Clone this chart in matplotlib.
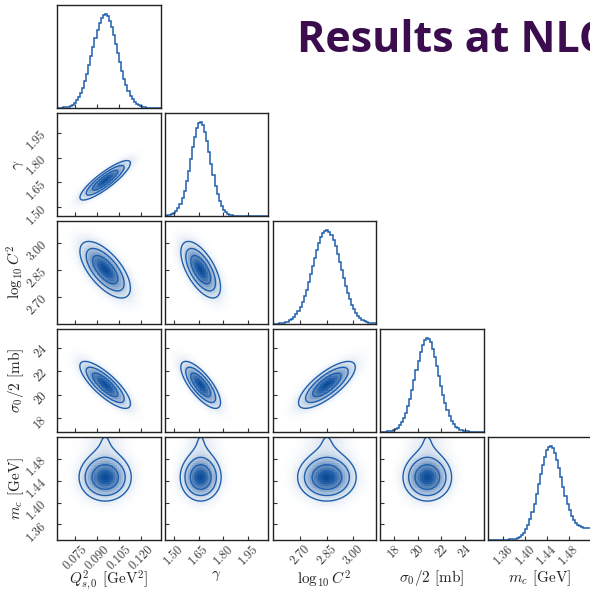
import numpy as np
import matplotlib
matplotlib.use("Agg")
import matplotlib.pyplot as plt
import matplotlib.transforms as mtransforms
from matplotlib.colors import LinearSegmentedColormap

plt.rcParams["font.family"] = "serif"
plt.rcParams["font.serif"] = ["cmr10"]
plt.rcParams["mathtext.fontset"] = "cm"
plt.rcParams["axes.formatter.use_mathtext"] = True

# parameters of the fit
labels = [r"$Q^2_{s,0}$ [GeV$^2$]", r"$\gamma$", r"$\log_{10}C^2$",
          r"$\sigma_0/2$ [mb]", r"$m_c$ [GeV]"]
ranges = [(0.0629, 0.1332), (1.446, 2.071), (2.55, 3.125), (16.83, 25.61), (1.332, 1.521)]
ticks = [[0.075, 0.090, 0.105, 0.120], [1.50, 1.65, 1.80, 1.95], [2.70, 2.85, 3.00],
         [18, 20, 22, 24], [1.36, 1.40, 1.44, 1.48]]
tick_labels = [["0.075", "0.090", "0.105", "0.120"], ["1.50", "1.65", "1.80", "1.95"],
               ["2.70", "2.85", "3.00"], ["18", "20", "22", "24"],
               ["1.36", "1.40", "1.44", "1.48"]]
means = [0.0955, 1.662, 2.852, 20.82, 1.446]
sigmas = [0.0086, 0.060, 0.079, 1.0, 0.021]
corr = np.array([
    [1.00, 0.87, -0.65, -0.80, 0.0],
    [0.87, 1.00, -0.62, -0.75, 0.0],
    [-0.65, -0.62, 1.00, 0.76, 0.0],
    [-0.80, -0.75, 0.76, 1.00, 0.0],
    [0.0, 0.0, 0.0, 0.0, 1.00],
])
# upper tail of the m_c posterior
mc_tail_mean = 1.515
mc_tail_sigma = 0.035
mc_tail_weight = 0.12

n_bins = 50
levels = 1.0 - np.exp(-0.5 * np.arange(0.5, 2.1, 0.5) ** 2)

line_color = "#1f5fad"
cmap = LinearSegmentedColormap.from_list("dens", ["#ffffff", "#0b4c98"])


def marginal(i, x):
    z = (x - means[i]) / sigmas[i]
    p = np.exp(-0.5 * z ** 2)
    if i == 4:
        p = p + mc_tail_weight * np.exp(-0.5 * ((x - mc_tail_mean) / mc_tail_sigma) ** 2)
    return p


def joint(i, j, X, Y):
    if i == 4 or j == 4:
        return marginal(i, X) * marginal(j, Y)
    r = corr[i, j]
    zx = (X - means[i]) / sigmas[i]
    zy = (Y - means[j]) / sigmas[j]
    return np.exp(-0.5 / (1 - r ** 2) * (zx ** 2 - 2 * r * zx * zy + zy ** 2))


def level_values(H):
    flat = np.sort(H.flatten())[::-1]
    cum = np.cumsum(flat)
    cum /= cum[-1]
    vals = []
    for lv in levels:
        vals.append(flat[np.argmin(np.abs(cum - lv))])
    return np.sort(np.array(vals))


fig = plt.figure(figsize=(5.9, 5.9), dpi=100)
W = 590.0
left0, top0 = 57.3 / W, 5.0 / W
pw, ph = 103.2 / W, 103.0 / W
px, py = 107.7 / W, 107.9 / W
ndim = len(labels)
ylab_offset = mtransforms.ScaledTranslation(0, -4 / 72, fig.dpi_scale_trans)

for r in range(ndim):
    for c in range(r + 1):
        ax = fig.add_axes([left0 + c * px, 1 - (top0 + r * py) - ph, pw, ph])
        xlo, xhi = ranges[c]
        if r == c:
            edges = np.linspace(xlo, xhi, n_bins + 1)
            centers = 0.5 * (edges[1:] + edges[:-1])
            h = marginal(c, centers)
            ax.stairs(h, edges, color=line_color, lw=1.1, baseline=None)
            ax.set_ylim(0, 1.1 * h.max())
            ax.set_yticks([])
        else:
            ylo, yhi = ranges[r]
            xe = np.linspace(xlo, xhi, n_bins + 1)
            ye = np.linspace(ylo, yhi, n_bins + 1)
            xc = 0.5 * (xe[1:] + xe[:-1])
            yc = 0.5 * (ye[1:] + ye[:-1])
            Xc, Yc = np.meshgrid(xc, yc)
            H = joint(c, r, Xc, Yc)
            ax.pcolormesh(xe, ye, H, cmap=cmap, shading="flat", rasterized=True)
            xf = np.linspace(xlo, xhi, 160)
            yf = np.linspace(ylo, yhi, 160)
            Xf, Yf = np.meshgrid(xf, yf)
            Hf = joint(c, r, Xf, Yf)
            ax.contour(Xf, Yf, Hf, levels=level_values(Hf), colors=line_color, linewidths=1.0)
            ax.set_ylim(ylo, yhi)
            ax.set_yticks(ticks[r])
            if c == 0:
                ax.set_yticklabels(tick_labels[r], rotation=45, fontsize=9, color="#3a3a3a")
                for lab in ax.get_yticklabels():
                    lab.set_transform(lab.get_transform() + ylab_offset)
                ax.set_ylabel(labels[r], fontsize=11, color="#222222")
                ax.yaxis.set_label_coords(-0.3, 0.5)
            else:
                ax.set_yticklabels([])
        ax.set_xlim(xlo, xhi)
        ax.set_xticks(ticks[c])
        if r == ndim - 1:
            ax.set_xticklabels(tick_labels[c], rotation=45, fontsize=9, color="#3a3a3a")
            ax.set_xlabel(labels[c], fontsize=11, color="#222222")
            ax.xaxis.set_label_coords(0.5, -0.28)
        else:
            ax.set_xticklabels([])
        ax.tick_params(direction="in", length=3, width=0.8, color="#333333")
        ax.tick_params(axis="x", pad=2.5)
        ax.tick_params(axis="y", pad=6)
        for sp in ax.spines.values():
            sp.set_color("#222222")
            sp.set_linewidth(1.0)

fig.text(296.7 / W, 1 - 52.3 / W, "Results at NLO", fontsize=31, fontweight="bold",
         color="#3c0d4e", family="Open Sans", va="baseline", ha="left")

fig.savefig("out.png", dpi=100)
